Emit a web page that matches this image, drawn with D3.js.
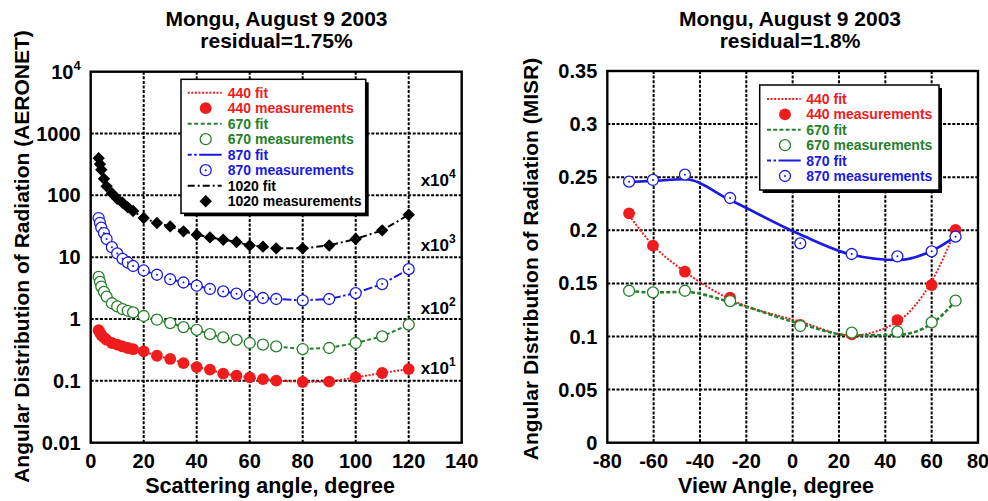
<!DOCTYPE html>
<html><head><meta charset="utf-8">
<script src="https://cdn.jsdelivr.net/npm/d3@7"></script>
<style>
body{margin:0;background:#fff}
svg{display:block}
text{font-family:"Liberation Sans",Arial,Helvetica,sans-serif;font-weight:bold}
</style>
</head><body>
<svg id="c" width="988" height="501"></svg>
<script>
// ---------- DATA: left panel (AERONET almucantar) ----------
const scatAngles = [3,3.5,4,5,6,8,10,12,14,16,20,25,30,35,40,45,50,55,60,65,70,80,90,100,110,120];
const aer440  = [0.66,0.60,0.55,0.50,0.46,0.41,0.385,0.36,0.34,0.325,0.30,0.255,0.226,0.194,0.167,0.152,0.131,0.121,0.114,0.107,0.101,0.096,0.097,0.114,0.134,0.155];
const aer670  = [4.8,4.0,3.35,2.75,2.3,1.8,1.6,1.45,1.36,1.28,1.12,0.975,0.86,0.74,0.67,0.57,0.505,0.46,0.41,0.385,0.361,0.327,0.34,0.41,0.525,0.81];
const aer870  = [43,36,30,24.6,19.7,14.5,11.5,9.4,8.2,7.2,6.1,5.2,4.4,3.9,3.46,3.06,2.80,2.57,2.39,2.19,2.11,2.0,2.11,2.63,3.68,6.4];
const aer1020 = [400,320,260,185,140,108,88,76,64,56,43,35.7,31.5,26.2,23.1,20.9,19.2,17.6,15.5,14.8,13.9,13.9,15.5,19.7,27.2,48.7];
const aerXTicks = [0,20,40,60,80,100,120,140];
const aerYTicks = [0.01,0.1,1,10,100,1000,10000];
const multExp = ["1","2","3","4"];
const multAt  = [0.16,1.5,16,180];

// ---------- DATA: right panel (MISR) ----------
const viewAngles = [-70.6,-60.3,-46.5,-27,3.3,25.5,45.2,60,70.3];
const misr440  = [0.216,0.1855,0.161,0.1366,0.111,0.102,0.1155,0.1485,0.2003];
const misr670  = [0.1431,0.1416,0.1431,0.1334,0.1099,0.1036,0.1045,0.1133,0.1337];
const misr870  = [0.2458,0.2474,0.2524,0.2304,0.1877,0.1777,0.1755,0.1802,0.1940];
const fit440   = [0.214,0.186,0.161,0.135,0.114,0.101,0.114,0.152,0.200];
const fit670   = [0.143,0.1415,0.142,0.1325,0.112,0.101,0.1015,0.112,0.1335];
const fit870   = [0.2455,0.2465,0.248,0.2285,0.196,0.177,0.172,0.1805,0.194];
const misrXTicks = [-80,-60,-40,-20,0,20,40,60,80];
const misrYTicks = [0,0.05,0.1,0.15,0.2,0.25,0.3,0.35];

// ---------- STYLE ----------
const RED="#ee1c1c", GREEN="#24802a", BLUE="#1a1ae0", BLACK="#000";
const svg = d3.select("#c");

function frameAndGrid(g, x, y, xt, yt, yfmt){
  const [x0,x1]=x.range(), [y1,y0]=y.range();
  const grid = g.append("g").attr("stroke","#000").attr("stroke-width",2).attr("stroke-dasharray","3,1.6");
  xt.slice(1,-1).forEach(v=>grid.append("line").attr("x1",x(v)).attr("x2",x(v)).attr("y1",y0).attr("y2",y1));
  yt.slice(1,-1).forEach(v=>grid.append("line").attr("x1",x0).attr("x2",x1).attr("y1",y(v)).attr("y2",y(v)));
  g.append("rect").attr("x",x0).attr("y",y0).attr("width",x1-x0).attr("height",y1-y0)
    .attr("fill","none").attr("stroke","#000").attr("stroke-width",2.4);
  g.append("g").selectAll("text").data(xt).join("text")
    .attr("x",d=>x(d)).attr("y",y1+25).attr("text-anchor","middle").attr("font-size",20).text(d=>d);
  const yl = g.append("g").selectAll("text").data(yt).join("text")
    .attr("x",x0-10).attr("y",d=>y(d)+7).attr("text-anchor","end").attr("font-size",20);
  yl.each(function(d){ yfmt(d3.select(this), d); });
}

function markers(g, kind, color, pts){
  const s = g.append("g");
  pts.forEach(([px,py])=>{
    if(kind==="filled") s.append("circle").attr("cx",px).attr("cy",py).attr("r",5.9).attr("fill",color);
    else if(kind==="open") s.append("circle").attr("cx",px).attr("cy",py).attr("r",5.5).attr("fill","#fff").attr("stroke",color).attr("stroke-width",1.3);
    else if(kind==="dot"){ s.append("circle").attr("cx",px).attr("cy",py).attr("r",5.5).attr("fill","#fff").attr("stroke",color).attr("stroke-width",1.3);
      s.append("circle").attr("cx",px).attr("cy",py).attr("r",1).attr("fill",color);}
    else if(kind==="diamond") s.append("path").attr("d",`M${px},${py-6.2}L${px+6.2},${py}L${px},${py+6.2}L${px-6.2},${py}Z`).attr("fill",color);
  });
}

function legend(g, bx, by, bw, bh, items, row0, dy, lx0, lx1, mx, tx){
  g.append("rect").attr("x",bx+3).attr("y",by+3).attr("width",bw).attr("height",bh).attr("fill","#000");
  g.append("rect").attr("x",bx).attr("y",by).attr("width",bw).attr("height",bh).attr("fill","#fff").attr("stroke","#000").attr("stroke-width",1.5);
  items.forEach((it,i)=>{
    const yy = row0 + i*dy;
    if(it.dash!==undefined){
      g.append("line").attr("x1",lx0).attr("x2",lx1).attr("y1",yy).attr("y2",yy)
        .attr("stroke",it.color).attr("stroke-width",2).attr("stroke-dasharray",it.dash);
    } else markers(g, it.kind, it.color, [[mx,yy]]);
    g.append("text").attr("x",tx).attr("y",yy+5).attr("font-size",14).attr("fill",it.color).text(it.label);
  });
}

function title(g, cx, t2){
  g.append("text").attr("x",cx).attr("y",26).attr("text-anchor","middle").attr("font-size",21).text("Mongu, August 9 2003");
  g.append("text").attr("x",cx).attr("y",48).attr("text-anchor","middle").attr("font-size",21).text(t2);
}

// ================= LEFT PANEL =================
{
  const g = svg.append("g");
  const x = d3.scaleLinear().domain([0,140]).range([90.7,461.7]);
  const y = d3.scaleLog().domain([0.01,10000]).range([442.7,71.7]);
  frameAndGrid(g, x, y, aerXTicks, aerYTicks, (t,d)=>{
    if(d===10000){ t.text("10"); t.append("tspan").attr("dy",-9).attr("font-size",13).text("4"); }
    else t.text(d>=1? d3.format("d")(d) : String(d));
  });
  const series = [
    {v:aer440, color:RED, dash:"2,1.6", kind:"filled"},
    {v:aer670, color:GREEN, dash:"4,2.5", kind:"open"},
    {v:aer870, color:BLUE, dash:"9,2.5,2.5,2.5", kind:"dot"},
    {v:aer1020, color:BLACK, dash:"7,3,2,3", kind:"diamond"}
  ];
  const line = d3.line().x(d=>x(d[0])).y(d=>y(d[1]));
  series.forEach(s=>{
    const pts = scatAngles.map((a,i)=>[a,s.v[i]]);
    g.append("path").attr("d",line(pts)).attr("fill","none").attr("stroke",s.color).attr("stroke-width",2).attr("stroke-dasharray",s.dash);
  });
  series.forEach(s=>{
    markers(g, s.kind, s.color, scatAngles.map((a,i)=>[x(a),y(s.v[i])]));
  });
  multExp.forEach((e,i)=>{
    const t = g.append("text").attr("x",x(124.5)).attr("y",y(multAt[i])+6).attr("font-size",17).text("x10");
    t.append("tspan").attr("dy",-8).attr("font-size",12).text(e);
  });
  legend(g, 181, 79.3, 184.7, 134, [
    {label:"440 fit", color:RED, dash:"2,1.6"},
    {label:"440 measurements", color:RED, kind:"filled"},
    {label:"670 fit", color:GREEN, dash:"4,2.5"},
    {label:"670 measurements", color:GREEN, kind:"open"},
    {label:"870 fit", color:BLUE, dash:"4,2.5,2.5,2.5,30"},
    {label:"870 measurements", color:BLUE, kind:"dot"},
    {label:"1020 fit", color:BLACK, dash:"7,3,2,3"},
    {label:"1020 measurements", color:BLACK, kind:"diamond"}
  ], 92.7, 15.5, 187.7, 221.7, 205.7, 227.7);
  title(g, 276.5, "residual=1.75%");
  g.append("text").attr("x",270).attr("y",493).attr("text-anchor","middle").attr("font-size",21.5).text("Scattering angle, degree");
  g.append("text").attr("transform","translate(29,256.5) rotate(-90)").attr("text-anchor","middle").attr("font-size",21)
    .text("Angular Distribution of Radiation (AERONET)");
}

// ================= RIGHT PANEL =================
{
  const g = svg.append("g");
  const x = d3.scaleLinear().domain([-80,80]).range([607.3,978]);
  const y = d3.scaleLinear().domain([0,0.35]).range([442.7,71]);
  frameAndGrid(g, x, y, misrXTicks, misrYTicks, (t,d)=>t.text(String(+d.toFixed(2))));
  const line = d3.line().x(d=>x(d[0])).y(d=>y(d[1])).curve(d3.curveMonotoneX);
  const fits = [
    {v:fit440, color:RED, dash:"2,1.6", w:2},
    {v:fit670, color:GREEN, dash:"4,2.2", w:2.6},
    {v:fit870, color:BLUE, dash:null, w:2.6}
  ];
  fits.forEach(s=>{
    const p = g.append("path").attr("d",line(viewAngles.map((a,i)=>[a,s.v[i]])))
      .attr("fill","none").attr("stroke",s.color).attr("stroke-width",s.w);
    if(s.dash) p.attr("stroke-dasharray",s.dash);
  });
  markers(g,"filled",RED, viewAngles.map((a,i)=>[x(a),y(misr440[i])]));
  markers(g,"open",GREEN, viewAngles.map((a,i)=>[x(a),y(misr670[i])]));
  markers(g,"dot",BLUE, viewAngles.map((a,i)=>[x(a),y(misr870[i])]));
  legend(g, 759.7, 85, 179.3, 105, [
    {label:"440 fit", color:RED, dash:"2,1.6"},
    {label:"440 measurements", color:RED, kind:"filled"},
    {label:"670 fit", color:GREEN, dash:"4,2.2"},
    {label:"670 measurements", color:GREEN, kind:"open"},
    {label:"870 fit", color:BLUE, dash:"4,2.5,2.5,2.5,30"},
    {label:"870 measurements", color:BLUE, kind:"dot"}
  ], 99, 15.4, 767, 800.7, 785, 806.3);
  title(g, 790, "residual=1.8%");
  g.append("text").attr("x",776).attr("y",493).attr("text-anchor","middle").attr("font-size",21.5).text("View Angle, degree");
  g.append("text").attr("transform","translate(537.5,259) rotate(-90)").attr("text-anchor","middle").attr("font-size",21)
    .text("Angular Distribution of Radiation (MISR)");
}
</script>
</body></html>
